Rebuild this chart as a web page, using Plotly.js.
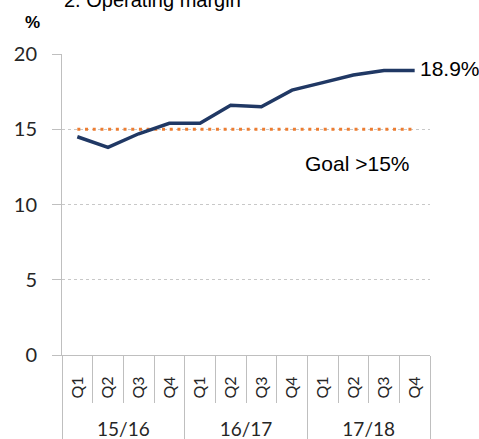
<!DOCTYPE html>
<html>
<head>
<meta charset="utf-8">
<script src="https://cdn.plot.ly/plotly-3.0.1.min.js"></script>
<style>html,body{margin:0;padding:0;background:#fff;}#chart{width:479px;height:439px;}</style>
</head>
<body>
<div id="chart"></div>
<script>
const years = ["15/16","16/17","17/18"];
const quarters = ["Q1","Q2","Q3","Q4","Q1","Q2","Q3","Q4","Q1","Q2","Q3","Q4"];
const margin = [14.5, 13.8, 14.7, 15.4, 15.4, 16.6, 16.5, 17.6, 18.1, 18.6, 18.9, 18.9];
const goal = [15,15,15,15,15,15,15,15,15,15,15,15];
const yTicks = [0,5,10,15,20];
const lastLabel = "18.9%";
const goalLabel = "Goal >15%";
const titleText = "2. Operating margin";
const unitText = "%";

const idx = quarters.map((q,i)=>i);
const yearPos = years.map((y,i)=>i*4+1.5);

const traces = [
  {x:idx, y:goal, type:"scatter", mode:"lines",
   line:{color:"#ED7D31", width:3, dash:"3px,4.7px"}, hoverinfo:"skip"},
  {x:idx, y:margin, type:"scatter", mode:"lines",
   line:{color:"#203864", width:3.5}},
  {x:yearPos, y:[null,null,null], xaxis:"x2", type:"scatter", mode:"lines", hoverinfo:"skip"}
];
const gray = "#bfbfbf";
const layout = {
  width:479, height:439,
  margin:{l:62, r:49, t:54, b:84},
  showlegend:false,
  paper_bgcolor:"#fff", plot_bgcolor:"#fff",
  xaxis:{range:[-0.5, 11.5], tickvals:idx, ticktext:quarters, tickangle:-90,
         showgrid:false, zeroline:false, showline:true, linecolor:gray, linewidth:1,
         ticks:"", ticklabelstandoff:14,
         minor:{ticks:"outside", ticklen:47, tick0:-0.5, dtick:1, tickcolor:gray, showgrid:false},
         tickfont:{family:"Lato", size:16, color:"#262626"}},
  xaxis2:{overlaying:"x", anchor:"y", side:"bottom", range:[-0.5, 11.5],
          tickvals:yearPos, ticktext:years, tickangle:0,
          showgrid:false, zeroline:false, showline:false, ticks:"", ticklabelstandoff:61,
          minor:{ticks:"outside", ticklen:84, tick0:-0.5, dtick:4, tickcolor:gray, showgrid:false},
          tickfont:{family:"Lato", size:19, color:"#262626"}},
  yaxis:{range:[0,20], tickvals:yTicks, showgrid:true, gridcolor:"#c8c8c8", griddash:"dot",
         showline:true, linecolor:gray, ticks:"outside", ticklen:9, tickcolor:gray,
         zeroline:false, ticklabelstandoff:11,
         tickfont:{family:"Lato", size:20, color:"#262626"}},
  annotations:[
    {text:titleText, xref:"paper", yref:"paper", x:0, y:1.136, xanchor:"left", yanchor:"bottom",
     showarrow:false, font:{family:"Liberation Sans", size:20, color:"#000"}},
    {text:"<b>"+unitText+"</b>", xref:"paper", yref:"paper", x:-0.08, y:1.106, xanchor:"center", yanchor:"middle",
     showarrow:false, font:{family:"Liberation Sans", size:17, color:"#000"}},
    {text:lastLabel, xref:"x", yref:"y", x:idx[idx.length-1], y:margin[margin.length-1], xanchor:"left", yanchor:"middle",
     xshift:3, yshift:2, showarrow:false, font:{family:"Liberation Sans", size:21, color:"#000"}},
    {text:goalLabel, xref:"paper", yref:"y", x:0.655, y:12.75, xanchor:"left", yanchor:"middle",
     showarrow:false, font:{family:"Liberation Sans", size:21, color:"#000"}}
  ]
};
Plotly.newPlot("chart", traces, layout, {displayModeBar:false, staticPlot:true});
</script>
</body>
</html>
